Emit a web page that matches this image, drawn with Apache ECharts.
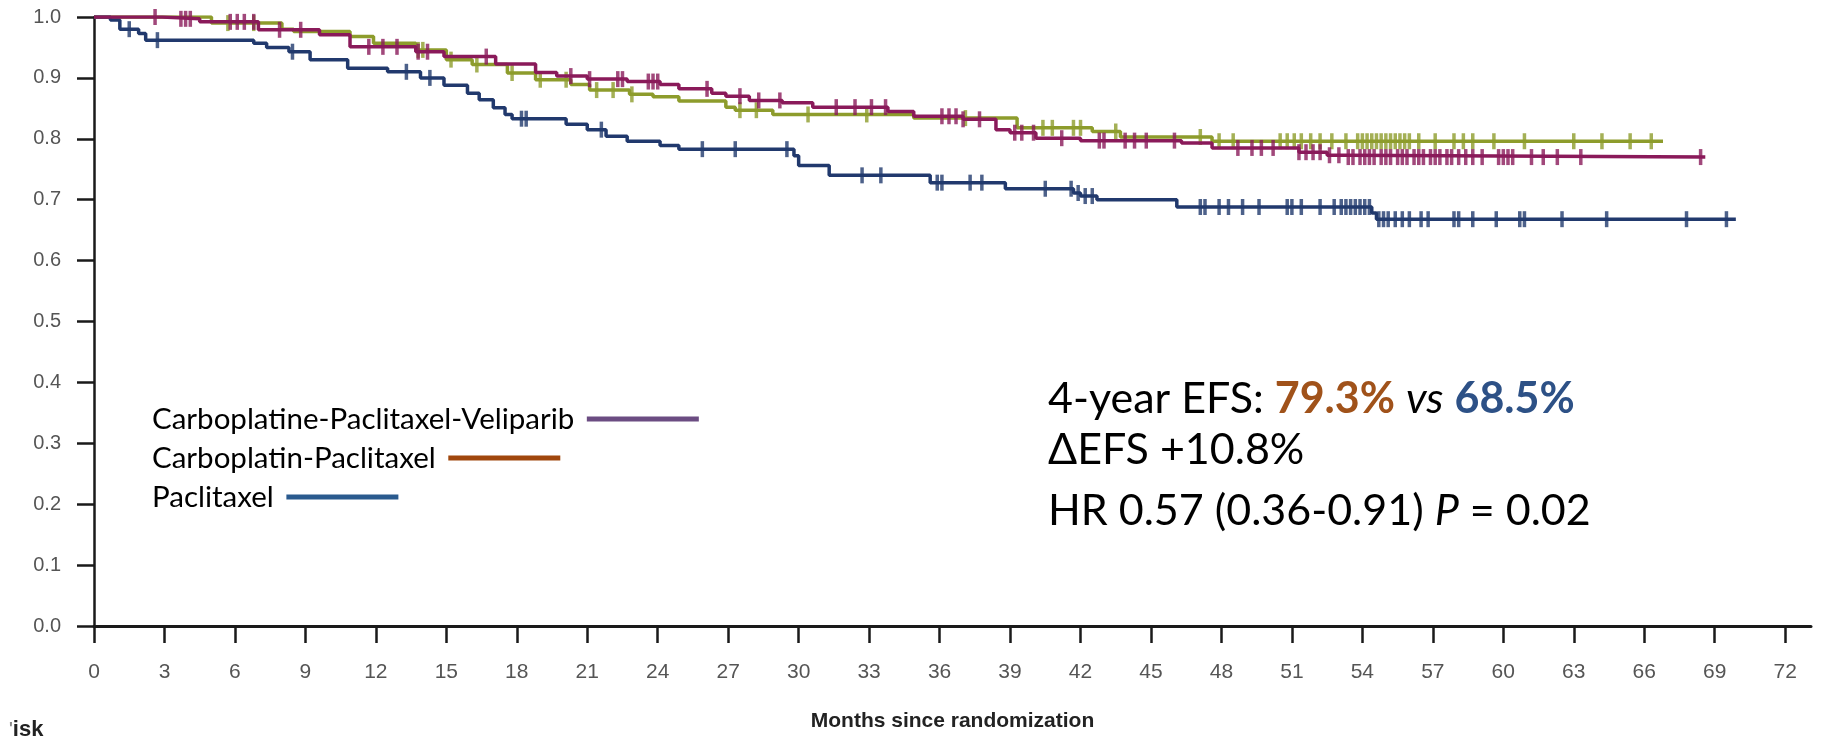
<!DOCTYPE html>
<html><head><meta charset="utf-8">
<script src="https://cdn.jsdelivr.net/npm/echarts@6/dist/echarts.min.js"></script>
<style>html,body{margin:0;padding:0;background:#fff}#c{width:1832px;height:737px}</style>
</head><body><div id="c"></div><script>
// ---- data ----
const seriesNames = ['Carboplatine-Paclitaxel-Veliparib', 'Carboplatin-Paclitaxel', 'Paclitaxel'];
const monthTicks = [0,3,6,9,12,15,18,21,24,27,30,33,36,39,42,45,48,51,54,57,60,63,66,69,72];

// Paclitaxel (navy)
const pacTimes = [0,0.7,1.1,1.9,2.2,6.8,7.35,8.3,9.2,10.8,12.5,13.9,14.9,15.9,16.4,17.0,17.5,17.8,20.1,21.0,21.8,22.7,24.1,24.9,29.8,30.0,31.3,35.6,38.8,41.7,42.0,42.7,46.1,54.4,54.6,69.9];
const pacSurv  = [1,0.995,0.98,0.973,0.962,0.957,0.95,0.943,0.93,0.916,0.91,0.90,0.888,0.875,0.864,0.851,0.84,0.833,0.824,0.815,0.804,0.796,0.789,0.783,0.772,0.756,0.740,0.728,0.718,0.711,0.706,0.700,0.688,0.678,0.668,0.668];
const pacCens  = [1.5,2.7,8.45,13.3,14.3,18.2,18.4,21.6,25.9,27.3,29.5,32.7,33.5,35.9,36.1,37.3,37.8,40.5,41.6,41.9,42.2,42.5,47.1,47.3,47.9,48.3,48.9,49.6,50.8,51.0,51.4,52.2,52.8,53.1,53.3,53.5,53.7,53.9,54.1,54.3,54.7,54.9,55.1,55.4,55.7,56.0,56.5,56.8,57.9,58.1,58.7,59.7,60.7,60.9,62.5,64.4,67.8,69.5];

// Carboplatine-Paclitaxel-Veliparib (magenta)
const vpTimes = [0,2.9,4.5,7.0,9.6,10.9,13.7,14.9,17.1,18.8,19.7,21.0,22.7,24.1,24.9,26.3,26.9,27.9,29.3,30.6,33.8,34.9,37.0,38.4,39.0,40.1,42.0,46.3,47.6,51.3,52.5,53.2,68.6];
const vpSurv  = [1,0.997,0.992,0.979,0.971,0.951,0.943,0.935,0.923,0.909,0.903,0.898,0.894,0.889,0.882,0.875,0.870,0.863,0.859,0.852,0.845,0.837,0.832,0.815,0.810,0.801,0.797,0.793,0.785,0.778,0.773,0.770,0.770];
const vpCens  = [2.6,3.7,3.9,4.1,5.8,6.1,6.4,6.8,7.9,8.8,11.7,12.3,12.9,13.8,14.2,16.7,20.3,21.1,22.3,22.5,23.6,23.8,24.0,26.1,27.5,28.3,29.2,31.6,32.4,33.1,33.7,36.1,36.4,36.7,37.0,37.7,39.2,39.5,40.0,41.2,42.8,43.0,43.9,44.3,44.8,46.0,48.7,49.3,49.7,50.2,51.3,51.6,51.9,52.2,52.6,53.0,53.4,53.6,53.9,54.1,54.3,54.5,54.8,55.0,55.2,55.5,55.7,55.9,56.2,56.4,56.6,56.9,57.1,57.3,57.6,57.8,58.1,58.4,58.7,59.1,59.8,60.0,60.2,60.4,61.2,61.7,62.3,63.3,68.4];

// Carboplatin-Paclitaxel (olive)
const cpTimes = [0,5.0,8.0,8.5,10.9,11.9,13.7,15.0,16.1,17.6,18.8,20.3,21.1,22.8,23.8,24.9,26.9,27.3,28.9,34.9,39.3,42.5,43.7,47.6,66.8];
const cpSurv  = [1,0.99,0.98,0.976,0.968,0.957,0.946,0.93,0.922,0.908,0.897,0.889,0.88,0.873,0.869,0.862,0.852,0.847,0.84,0.834,0.818,0.812,0.803,0.796,0.796];
const cpCens  = [5.7,6.8,13.8,14.0,15.2,16.3,17.8,19.0,20.1,21.4,22.1,22.9,27.5,28.2,30.4,32.9,37.1,40.4,40.8,41.7,42.0,43.5,47.1,47.9,48.5,50.5,50.8,51.1,51.4,51.8,52.2,52.7,53.3,53.8,54.0,54.2,54.4,54.6,54.8,55.0,55.2,55.4,55.6,55.8,56.0,56.4,57.1,57.9,58.3,58.7,59.6,60.9,63.0,64.2,65.4,66.3];

// ---- styles ----
const curveColor = { vp: '#8a1a5a', cp: '#8d9c2c', pac: '#21396d' };
const legendColor = ['#6b4c82', '#a0470d', '#2a5a8e'];

function stepData(t, s) { return t.map((x, i) => [x, s[i]]); }
function survAt(t, s, x) { let v = s[0]; for (let i = 0; i < t.length; i++) { if (t[i] <= x) v = s[i]; else break; } return v; }
function censData(t, s, c) { return c.map(x => [x, survAt(t, s, x)]); }

function curve(name, color, t, s, z) {
  return { name, type: 'line', step: 'end', data: stepData(t, s), showSymbol: false, symbol: 'none',
    lineStyle: { color, width: 3.5 }, itemStyle: { color }, z, silent: true };
}
function marks(name, color, t, s, c, z) {
  return { name, type: 'scatter', data: censData(t, s, c), symbol: 'rect', symbolSize: [3.5, 16],
    itemStyle: { color }, z, silent: true };
}
function legendRow(i, top) {
  return {
    orient: 'horizontal', left: 152, top, padding: 0,
    itemWidth: 112, itemHeight: 5, align: 'right', selectedMode: false,
    formatter: n => n + ' ',
    textStyle: { fontFamily: 'Lato, "Open Sans", sans-serif', fontSize: 29.5, color: '#000' },
    data: [{ name: seriesNames[i], icon: 'rect', itemStyle: { color: legendColor[i], borderWidth: 0 } }]
  };
}

const chart = echarts.init(document.getElementById('c'), null, { renderer: 'canvas' });
const sans = '"Liberation Sans", Arial, sans-serif';
chart.setOption({
  animation: false,
  backgroundColor: '#fff',
  grid: { left: 94, right: 21, top: 17, bottom: 108, containLabel: false },
  xAxis: {
    type: 'value', min: 0, max: 73.1,
    name: 'Months since randomization', nameLocation: 'middle', nameGap: 85,
    nameTextStyle: { fontFamily: sans, fontWeight: 'bold', fontSize: 21, color: '#222' },
    axisLine: { show: true, onZero: false, lineStyle: { color: '#1a1a1a', width: 3 } },
    axisTick: { show: true, customValues: monthTicks, length: 17, lineStyle: { color: '#1a1a1a', width: 2.5 } },
    axisLabel: { customValues: monthTicks, margin: 36, fontFamily: sans, fontSize: 21, color: '#555' },
    splitLine: { show: false }
  },
  yAxis: {
    type: 'value', min: 0, max: 1, interval: 0.1,
    axisLine: { show: true, onZero: false, lineStyle: { color: '#1a1a1a', width: 2.5 } },
    axisTick: { show: true, length: 17, lineStyle: { color: '#1a1a1a', width: 2.5 } },
    axisLabel: { margin: 33, fontFamily: sans, fontSize: 20, color: '#555', formatter: v => v.toFixed(1) },
    splitLine: { show: false }
  },
  legend: [legendRow(0, 404), legendRow(1, 443), legendRow(2, 482)],
  graphic: [
    { type: 'text', left: 1048, top: 378, style: {
      text: '{n|4-year EFS: }{o|79.3%}{n| }{i|vs}{n| }{b|68.5%}',
      rich: {
        n: { fontFamily: 'Lato', fontSize: 43, fill: '#000' },
        o: { fontFamily: 'Lato', fontSize: 43, fontWeight: 'bold', fill: '#a0521a' },
        i: { fontFamily: 'Lato', fontSize: 43, fontStyle: 'italic', fill: '#000' },
        b: { fontFamily: 'Lato', fontSize: 43, fontWeight: 'bold', fill: '#2d5186' }
      } } },
    { type: 'text', left: 1048, top: 429, style: { text: 'ΔEFS +10.8%', font: '43px Lato', fill: '#000' } },
    { type: 'text', left: 1048, top: 490, style: {
      text: '{n|HR 0.57 (0.36-0.91) }{i|P}{n| = 0.02}',
      rich: {
        n: { fontFamily: 'Lato', fontSize: 43, fill: '#000' },
        i: { fontFamily: 'Lato', fontSize: 43, fontStyle: 'italic', fill: '#000' }
      } } },
    { type: 'text', left: 9, top: 719, style: {
      text: '{a|\'}isk',
      font: 'bold 22px "Liberation Sans", Arial, sans-serif', fill: '#222',
      rich: { a: { font: 'bold 16px "Liberation Sans", Arial, sans-serif', fill: '#888' } } } }
  ],
  series: [
    curve(seriesNames[1], curveColor.cp, cpTimes, cpSurv, 2),
    marks(seriesNames[1], curveColor.cp, cpTimes, cpSurv, cpCens, 3),
    curve(seriesNames[0], curveColor.vp, vpTimes, vpSurv, 4),
    marks(seriesNames[0], curveColor.vp, vpTimes, vpSurv, vpCens, 5),
    curve(seriesNames[2], curveColor.pac, pacTimes, pacSurv, 2),
    marks(seriesNames[2], curveColor.pac, pacTimes, pacSurv, pacCens, 3)
  ]
});
</script></body></html>
